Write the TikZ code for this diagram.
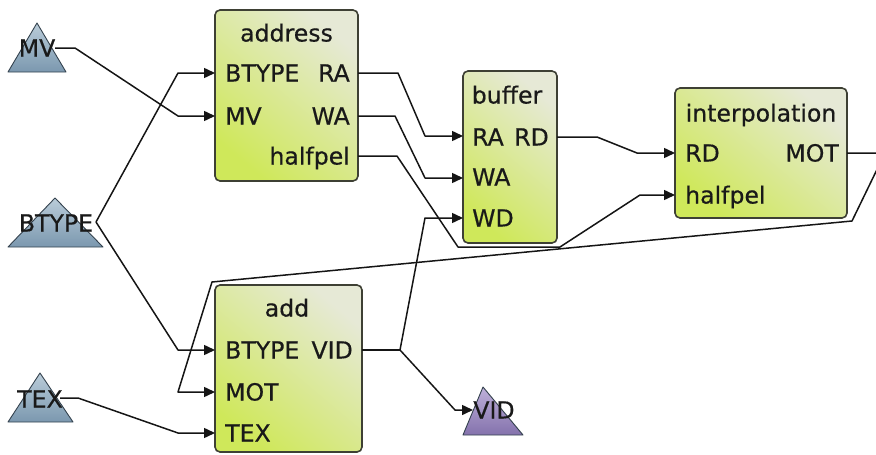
\documentclass[tikz,border=0pt]{standalone}
\usepackage{fontspec}
\setmainfont{DejaVu Sans}
\newfontfamily\portfont{DejaVu Sans}[FakeBold=0.5]
\usetikzlibrary{arrows.meta}

\definecolor{boxlow}{HTML}{CFE85A}
\definecolor{boxhigh}{HTML}{E6E9D6}
\definecolor{boxline}{HTML}{3E4034}
\definecolor{pinlow}{HTML}{7B98AF}
\definecolor{pinhigh}{HTML}{BACCD9}
\definecolor{pinline}{HTML}{34424E}
\definecolor{outlow}{HTML}{8472AC}
\definecolor{outhigh}{HTML}{BEB0DA}
\definecolor{wirecol}{HTML}{151515}

\tikzset{
  blockbox/.style={draw=boxline, line width=1.6pt, rounded corners=5pt,
    shading=axis, bottom color=boxlow, top color=boxhigh, shading angle=-40,
    inner sep=0pt},
  pinshape/.style={draw=pinline, line width=0.9pt, line join=round,
    shading=axis, bottom color=pinlow, top color=pinhigh},
  outshape/.style={draw=pinline, line width=0.9pt, line join=round,
    shading=axis, bottom color=outlow, top color=outhigh},
  lbl/.style={inner sep=0pt, text height=17pt, text depth=0pt,
    font=\portfont\fontsize{23.6}{28}\selectfont, text=black!90},
  wire/.style={draw=wirecol, line width=1.5pt, line join=round},
  feed/.style={wire, -{Triangle[length=11pt,width=10pt]}},
}

\begin{document}
\begin{tikzpicture}[x=1pt,y=-1pt]
\useasboundingbox (0,0) rectangle (876,455);
\begin{scope}
\clip (0,0) rectangle (876,455);

% ---- processing blocks ----
\node[blockbox, minimum width=143pt, minimum height=171pt] (address) at (286.5,95.5) {};
\node[blockbox, minimum width=94pt, minimum height=172pt] (buffer) at (510,157) {};
\node[blockbox, minimum width=172pt, minimum height=130pt] (interp) at (761,153) {};
\node[blockbox, minimum width=147pt, minimum height=167pt] (add) at (288.5,368.5) {};

% block titles and port names
\node[lbl] (address-title) at (286.5,33) {address};
\node[lbl, anchor=west] (address-l1) at (225,73) {BTYPE};
\node[lbl, anchor=east] (address-r1) at (350,73) {RA};
\node[lbl, anchor=west] (address-l2) at (225,116) {MV};
\node[lbl, anchor=east] (address-r2) at (350,116) {WA};
\node[lbl, anchor=east] (address-r3) at (350,156) {halfpel};

\node[lbl] (buffer-title) at (507,95) {buffer};
\node[lbl, anchor=west] (buffer-l1) at (472,137) {RA};
\node[lbl, anchor=east] (buffer-r1) at (549,137) {RD};
\node[lbl, anchor=west] (buffer-l2) at (472,177) {WA};
\node[lbl, anchor=west] (buffer-l3) at (472,218) {WD};

\node[lbl] (interp-title) at (761,113) {interpolation};
\node[lbl, anchor=west] (interp-l1) at (685,153) {RD};
\node[lbl, anchor=east] (interp-r1) at (839,153) {MOT};
\node[lbl, anchor=west] (interp-l2) at (685,195) {halfpel};

\node[lbl] (add-title) at (287,308) {add};
\node[lbl, anchor=west] (add-l1) at (225,350) {BTYPE};
\node[lbl, anchor=east] (add-r1) at (353,350) {VID};
\node[lbl, anchor=west] (add-l2) at (225,392) {MOT};
\node[lbl, anchor=west] (add-l3) at (225,433) {TEX};

% port positions on the block borders
\coordinate (address-in-BTYPE) at (215,73);
\coordinate (address-in-MV) at (215,116);
\coordinate (address-out-RA) at (358,73);
\coordinate (address-out-WA) at (358,116);
\coordinate (address-out-halfpel) at (358,156);
\coordinate (buffer-in-RA) at (463,136);
\coordinate (buffer-in-WA) at (463,178);
\coordinate (buffer-in-WD) at (463,218);
\coordinate (buffer-out-RD) at (557,137);
\coordinate (interp-in-RD) at (675,153);
\coordinate (interp-in-halfpel) at (675,195);
\coordinate (interp-out-MOT) at (847,153);
\coordinate (add-in-BTYPE) at (215,350);
\coordinate (add-in-MOT) at (215,392);
\coordinate (add-in-TEX) at (215,433);
\coordinate (add-out-VID) at (362,350);

% terminal connection points
\coordinate (mv-out) at (55,48);
\coordinate (btype-out) at (96,222);
\coordinate (tex-out) at (60,398);
\coordinate (vid-in) at (473,410);
\coordinate (vid-split) at (400,350);

% ---- external inputs and output ----
\path[pinshape] (37,23) -- (66,72) -- (8,72) -- cycle;
\path[pinshape] (55,198) -- (103,247) -- (8,247) -- cycle;
\path[pinshape] (40,373) -- (73,422) -- (8,422) -- cycle;
\path[outshape] (483,387) -- (523,435) -- (463,435) -- cycle;

% ---- connections ----
\draw[feed] (mv-out) -- (75,48) -- (178,116) -- (address-in-MV);
\draw[feed] (btype-out) -- (178,73) -- (address-in-BTYPE);
\draw[feed] (btype-out) -- (178,350) -- (add-in-BTYPE);
\draw[feed] (tex-out) -- (78,398) -- (178,433) -- (add-in-TEX);

\draw[feed] (address-out-RA) -- (398,73) -- (425,136) -- (buffer-in-RA);
\draw[feed] (address-out-WA) -- (395,116) -- (425,178) -- (buffer-in-WA);
\draw[feed] (address-out-halfpel) -- (397,156) -- (458,247) -- (560,247)
  -- (640,195) -- (interp-in-halfpel);

\draw[wire] (add-out-VID) -- (vid-split);
\draw[feed] (vid-split) -- (425,218) -- (buffer-in-WD);
\draw[feed] (vid-split) -- (455,410) -- (vid-in);

\draw[feed] (buffer-out-RD) -- (597,137) -- (637,153) -- (interp-in-RD);
\draw[feed] (interp-out-MOT) -- (885,153) -- (852,221) -- (212,282)
  -- (178,392) -- (add-in-MOT);

% terminal names
\node[lbl] (MV) at (37,48) {MV};
\node[lbl] (BTYPE) at (56,223) {BTYPE};
\node[lbl] (TEX) at (40,399) {TEX};
\node[lbl] (VID) at (494,410) {VID};
\end{scope}
\end{tikzpicture}
\end{document}
